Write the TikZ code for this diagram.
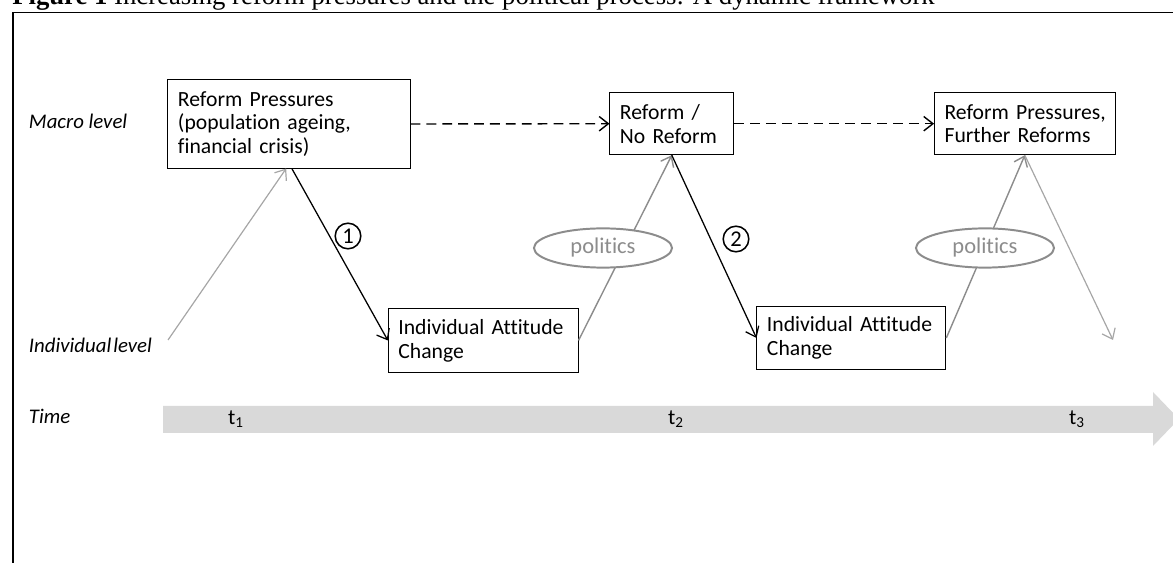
\documentclass[tikz,border=0pt]{standalone}
\usepackage{fontspec}
\setmainfont{Carlito}[Ligatures=NoCommon]
\newfontfamily\titlefont{Liberation Serif}
\usetikzlibrary{arrows.meta}
\usetikzlibrary{shapes.geometric}
\definecolor{ellgray}{HTML}{8C8C8C}
\definecolor{palegray}{HTML}{A6A6A6}
\definecolor{bandgray}{HTML}{D9D9D9}

\begin{document}
\begin{tikzpicture}[x=0.025cm,y=-0.025cm,font=\fontsize{15.4}{17}\selectfont,>={Straight Barb[length=2.3mm,width=3.6mm]},
stage/.style n args={2}{draw,line width=0.7pt,align=left,inner xsep=0.25cm,inner ysep=0pt,text width=#1,minimum height=#2},
level/.style={anchor=west,inner sep=0pt,font=\fontsize{14.8}{17}\selectfont\itshape},
politics/.style={ellipse,draw=ellgray,line width=1.4pt,fill=white,text=ellgray,minimum width=3.45cm,minimum height=0.98cm,inner sep=0pt,font=\fontsize{16}{17}\selectfont},
number/.style={circle,draw,line width=1.1pt,inner sep=0pt,minimum size=0.64cm,font=\fontsize{16}{17}\selectfont},
causal/.style={->,line width=0.9pt},
feedback/.style={->,line width=1pt,dash pattern=on 7pt off 4.3pt}]
\useasboundingbox (0,0) rectangle (1173,563);
\draw[line width=1pt] (13,12.5) rectangle (1200,600);
\node[anchor=base west,inner sep=0pt,font=\titlefont\fontsize{19}{22}\selectfont] (caption) at (12,4.5) {\textbf{Figure 1} Increasing reform pressures and the political process: A dynamic framework};
\node[level] (macro) at (28.7,121.7) {Macro level};
\node[level] (individual) at (28.7,345) {Individual\hspace{0.1em}level};
\node[level] (time) at (28.7,416.7) {Time};
\fill[bandgray] (163,406) -- (1153,406) -- (1153,392) -- (1179,419) -- (1153,446) -- (1153,433) -- (163,433) -- cycle;
\node (tone) at (236,419) {t\textsubscript{1}};
\node (ttwo) at (676,419) {t\textsubscript{2}};
\node (tthree) at (1077,419) {t\textsubscript{3}};
\node[stage={5.55cm}{2.2cm}] (pressures) at (289,124) {Reform Pressures\\(population ageing,\\financial crisis)};
\node[stage={2.59cm}{1.55cm}] (reform) at (671.8,123.7) {Reform /\\No Reform};
\node[stage={4.01cm}{1.55cm}] (further) at (1024.8,123.7) {\mbox{Reform Pressures,}\\Further Reforms};
\node[stage={4.24cm}{1.575cm}] (attitudeA) at (483.2,340.5) {Individual Attitude\\Change};
\node[stage={4.22cm}{1.55cm}] (attitudeB) at (851.4,338) {Individual Attitude\\Change};
\coordinate (start) at (168,340);
\coordinate (finish) at (1113,340);
\draw[feedback] (pressures.east) -- (reform.west);
\draw[feedback] (reform.east) -- (further.west);
\draw[->,palegray,line width=0.85pt] (start) -- ([xshift=-2pt]pressures.south);
\draw[causal] ([xshift=2pt]pressures.south) -- (attitudeA.west);
\draw[->,ellgray,line width=1pt] (attitudeA.east) -- (reform.south);
\draw[causal] (reform.south) -- (attitudeB.west);
\draw[->,ellgray,line width=1pt] (attitudeB.east) -- (further.south);
\draw[->,palegray,line width=0.85pt] (further.south) -- (finish);
\node[politics] (politicsA) at (603,248) {politics};
\node[politics] (politicsB) at (985,248) {politics};
\node[number] (one) at (348,236) {1};
\node[number] (two) at (736,239) {2};
\end{tikzpicture}
\end{document}
